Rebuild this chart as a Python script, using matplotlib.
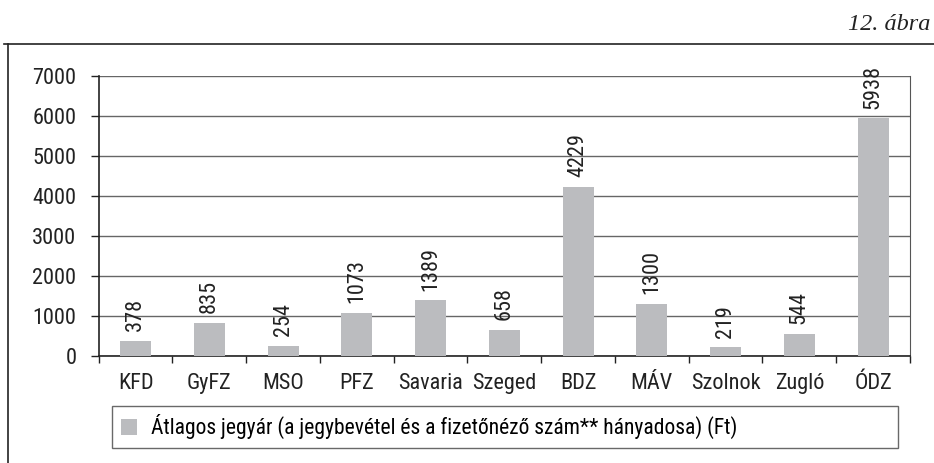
import matplotlib.pyplot as plt
from matplotlib.lines import Line2D
from matplotlib.patches import Patch

categories = ["KFD", "GyFZ", "MSO", "PFZ", "Savaria", "Szeged", "BDZ", "MÁV", "Szolnok", "Zugló", "ÓDZ"]
values = [378, 835, 254, 1073, 1389, 658, 4229, 1300, 219, 544, 5938]
series_label = "Átlagos jegyár (a jegybevétel és a fizetőnéző szám** hányadosa) (Ft)"
y_ticks = [0, 1000, 2000, 3000, 4000, 5000, 6000, 7000]

plt.rcParams["font.family"] = ["Roboto Condensed", "Archivo Narrow", "DejaVu Sans"]
bar_color = "#bbbcbf"
W, H = 934, 463

fig = plt.figure(figsize=(W / 100, H / 100), dpi=100)
ax = fig.add_axes([98.7 / W, (H - 356) / H, (910 - 98.7) / W, (356 - 75.7) / H])

x = list(range(len(categories)))
ax.bar(x, values, width=0.42, color=bar_color, zorder=3)
for xi, v in zip(x, values):
    ax.annotate(str(v), (xi, v), xytext=(0, 7), textcoords="offset points",
                rotation=90, ha="center", va="bottom", fontsize=16, color="#222222", zorder=4)

ax.set_xlim(-0.5, len(categories) - 0.5)
ax.set_ylim(0, 7000)
ax.set_yticks(y_ticks)
ax.tick_params(axis="y", labelsize=16, length=6, width=1, direction="out", pad=10, colors="#222222")
ax.yaxis.grid(True, color="#666666", linewidth=1.0, zorder=0)

ax.set_xticks([i - 0.5 for i in range(len(categories) + 1)])
ax.set_xticklabels([])
ax.set_xticks(x, minor=True)
ax.set_xticklabels(categories, minor=True)
ax.tick_params(axis="x", which="major", length=5, width=1, direction="out", colors="#222222")
ax.tick_params(axis="x", which="minor", length=0, labelsize=16, pad=12, colors="#222222")

for s in ["left", "bottom"]:
    ax.spines[s].set_color("#222222")
    ax.spines[s].set_linewidth(1.2)
ax.spines["right"].set_color("#555555")
ax.spines["top"].set_visible(False)

handle = Patch(facecolor=bar_color, edgecolor="none")
leg = fig.legend([handle], [series_label], loc="lower left",
                 bbox_to_anchor=(112 / W, (H - 448) / H, (898 - 112) / W, 38 / H),
                 mode="expand", fontsize=15.5, frameon=True, fancybox=False,
                 handlelength=0.75, handleheight=0.75, handletextpad=0.65,
                 borderaxespad=0, borderpad=0.4)
leg.get_frame().set_edgecolor("#444444")
leg.get_frame().set_linewidth(1.0)

# outer frame (top and left edges)
fig.add_artist(Line2D([4 / W, 1], [(H - 44) / H] * 2, color="#222222", linewidth=1.2))
fig.add_artist(Line2D([8 / W] * 2, [0, (H - 44) / H], color="#222222", linewidth=1.2))

fig.text(930 / W, (H - 30) / H, "12. ábra", ha="right", va="baseline",
         fontsize=17.5, style="italic", family=["Liberation Serif", "DejaVu Serif"], color="#222222")

fig.savefig("out.png", dpi=100)
